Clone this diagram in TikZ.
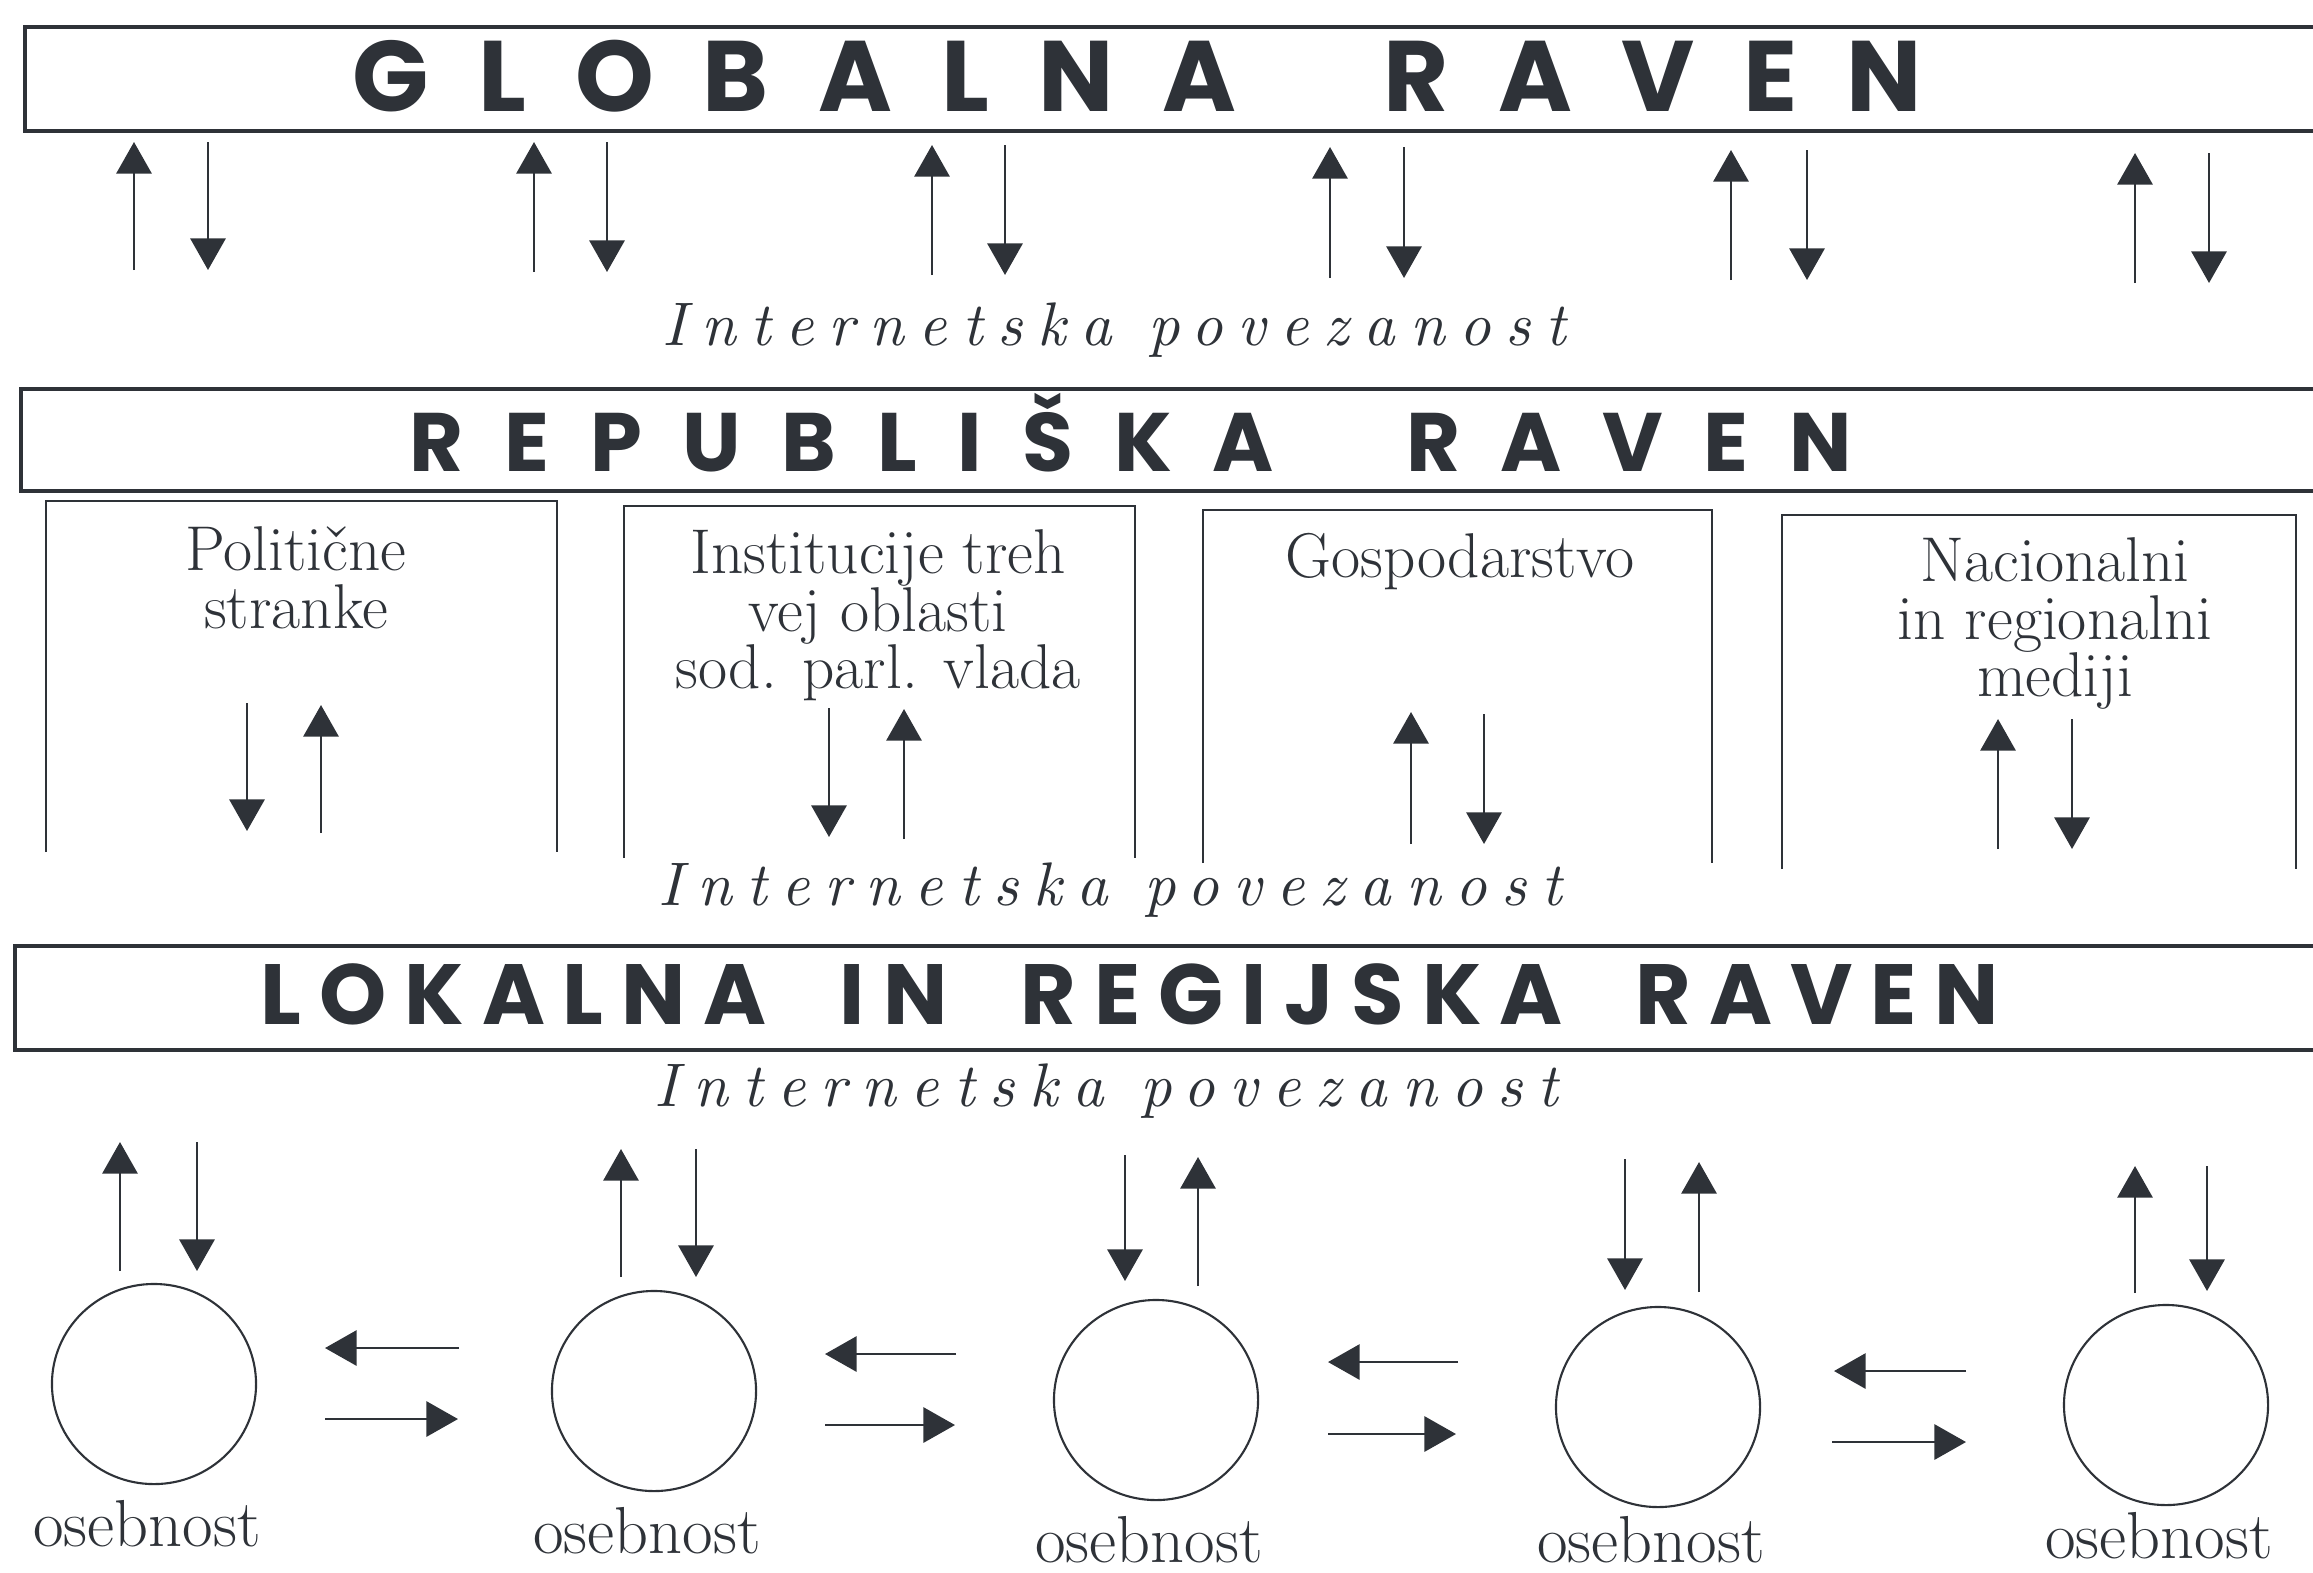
\documentclass[tikz,border=0pt]{standalone}
\usepackage{fontspec}
\newfontfamily\levelfont{Poppins}
\newfontfamily\linkfont{lmroman10-italic}[Extension=.otf, LetterSpace=24]
\usetikzlibrary{arrows.meta, positioning, shapes.geometric}
\definecolor{ink}{RGB}{46,50,56}

\begin{document}
\begin{tikzpicture}[
    x=0.01cm, y=-0.01cm,
    every node/.style={inner sep=0pt, text=ink},
    bar/.style={draw=ink, line width=1pt},
    branch_box/.style={draw=ink, line width=0.6pt},
    level_title/.style={anchor=base west},
    link_text/.style={anchor=base west, font=\linkfont\fontsize{17.5}{20}\selectfont},
    branch_text/.style={anchor=north, align=center, font=\fontsize{18}{16.4}\selectfont},
    person/.style={ellipse, draw=ink, line width=0.6pt, minimum width=2.04cm, minimum height=2cm},
    person_text/.style={anchor=north, xshift=-0.07cm, font=\fontsize{18.9}{20}\selectfont},
    arrow/.style={draw=ink, line width=0.75pt, -{Triangle[length=9pt, width=10pt]}},
    ]

    \useasboundingbox (0,0) rectangle (2313,1572);

    % --- Levels ---
    \draw[bar] (2313,27) -- (25,27) -- (25,131) -- (2313,131);
    \draw[bar] (2313,389) -- (21,389) -- (21,491) -- (2313,491);
    \draw[bar] (2313,946) -- (15,946) -- (15,1050) -- (2313,1050);

    \node (global) [level_title, font=\levelfont\bfseries\fontsize{28.5}{30}\selectfont\addfontfeature{LetterSpace=49}]
        at (352,111) {GLOBALNA\hspace{0.77cm} RAVEN};
    \node (republic) [level_title, font=\levelfont\bfseries\fontsize{23.6}{26}\selectfont\addfontfeature{LetterSpace=49}]
        at (409,471) {REPUBLIŠKA\hspace{0.74cm} RAVEN};
    \node (local) [level_title, font=\levelfont\bfseries\fontsize{24.3}{26}\selectfont\addfontfeature{LetterSpace=21}]
        at (260,1024) {LOKALNA\hspace{0.37cm} IN\hspace{0.37cm} REGIJSKA\hspace{0.37cm} RAVEN};

    \node (net_global) [link_text] at (662,345) {Internetska povezanost};
    \node (net_republic) [link_text] at (658,905) {Internetska povezanost};
    \node (net_local) [link_text] at (654,1106) {Internetska povezanost};

    % --- Republic branches ---
    \draw[branch_box] (46,852) -- (46,501) -- (557,501) -- (557,852);
    \draw[branch_box] (624,858) -- (624,506) -- (1135,506) -- (1135,858);
    \draw[branch_box] (1203,863) -- (1203,510) -- (1712,510) -- (1712,863);
    \draw[branch_box] (1782,869) -- (1782,515) -- (2296,515) -- (2296,869);

    \node (parties) [branch_text] at (296,526) {Politične\\stranke};
    \node (institutions) [branch_text] at (878,529) {Institucije treh\\vej oblasti\\sod. parl. vlada};
    \node (economy) [branch_text] at (1460,533) {Gospodarstvo};
    \node (media) [branch_text] at (2055,537) {Nacionalni\\in regionalni\\mediji};

    % --- Persons ---
    \node (p1) [person] at (154,1384) {};
    \node (p2) [person] at (654,1391) {};
    \node (p3) [person] at (1156,1400) {};
    \node (p4) [person] at (1658,1407) {};
    \node (p5) [person] at (2166,1405) {};

    \node (p1_name) [person_text, below=0.15cm of p1] {osebnost};
    \node (p2_name) [person_text, below=0.15cm of p2] {osebnost};
    \node (p3_name) [person_text, below=0.15cm of p3] {osebnost};
    \node (p4_name) [person_text, below=0.08cm of p4] {osebnost};
    \node (p5_name) [person_text, below=0.06cm of p5] {osebnost};

    % --- Arrow ends ---
    \coordinate (g1_up_a) at (134,270); \coordinate (g1_up_b) at (134,142);
    \coordinate (g1_dn_a) at (208,142); \coordinate (g1_dn_b) at (208,270);
    \coordinate (g2_up_a) at (534,272); \coordinate (g2_up_b) at (534,142);
    \coordinate (g2_dn_a) at (607,142); \coordinate (g2_dn_b) at (607,272);
    \coordinate (g3_up_a) at (932,275); \coordinate (g3_up_b) at (932,145);
    \coordinate (g3_dn_a) at (1005,145); \coordinate (g3_dn_b) at (1005,275);
    \coordinate (g4_up_a) at (1330,278); \coordinate (g4_up_b) at (1330,147);
    \coordinate (g4_dn_a) at (1404,147); \coordinate (g4_dn_b) at (1404,278);
    \coordinate (g5_up_a) at (1731,280); \coordinate (g5_up_b) at (1731,150);
    \coordinate (g5_dn_a) at (1807,150); \coordinate (g5_dn_b) at (1807,280);
    \coordinate (g6_up_a) at (2135,283); \coordinate (g6_up_b) at (2135,153);
    \coordinate (g6_dn_a) at (2209,153); \coordinate (g6_dn_b) at (2209,283);

    \coordinate (b1_dn_a) at (247,703); \coordinate (b1_dn_b) at (247,831);
    \coordinate (b1_up_a) at (321,833); \coordinate (b1_up_b) at (321,705);
    \coordinate (b2_dn_a) at (829,708); \coordinate (b2_dn_b) at (829,837);
    \coordinate (b2_up_a) at (904,839); \coordinate (b2_up_b) at (904,709);
    \coordinate (b3_up_a) at (1411,844); \coordinate (b3_up_b) at (1411,712);
    \coordinate (b3_dn_a) at (1484,714); \coordinate (b3_dn_b) at (1484,844);
    \coordinate (b4_up_a) at (1998,849); \coordinate (b4_up_b) at (1998,719);
    \coordinate (b4_dn_a) at (2072,719); \coordinate (b4_dn_b) at (2072,849);

    \coordinate (p1_up_a) at (120,1271); \coordinate (p1_up_b) at (120,1142);
    \coordinate (p1_dn_a) at (197,1142); \coordinate (p1_dn_b) at (197,1271);
    \coordinate (p2_up_a) at (621,1277); \coordinate (p2_up_b) at (621,1149);
    \coordinate (p2_dn_a) at (696,1149); \coordinate (p2_dn_b) at (696,1277);
    \coordinate (p3_dn_a) at (1125,1155); \coordinate (p3_dn_b) at (1125,1281);
    \coordinate (p3_up_a) at (1198,1286); \coordinate (p3_up_b) at (1198,1157);
    \coordinate (p4_dn_a) at (1625,1159); \coordinate (p4_dn_b) at (1625,1290);
    \coordinate (p4_up_a) at (1699,1292); \coordinate (p4_up_b) at (1699,1162);
    \coordinate (p5_up_a) at (2135,1293); \coordinate (p5_up_b) at (2135,1166);
    \coordinate (p5_dn_a) at (2207,1166); \coordinate (p5_dn_b) at (2207,1291);

    \coordinate (h12_l_a) at (459,1348); \coordinate (h12_l_b) at (325,1348);
    \coordinate (h12_r_a) at (325,1419); \coordinate (h12_r_b) at (458,1419);
    \coordinate (h23_l_a) at (956,1354); \coordinate (h23_l_b) at (825,1354);
    \coordinate (h23_r_a) at (825,1425); \coordinate (h23_r_b) at (955,1425);
    \coordinate (h34_l_a) at (1458,1362); \coordinate (h34_l_b) at (1328,1362);
    \coordinate (h34_r_a) at (1328,1434); \coordinate (h34_r_b) at (1456,1434);
    \coordinate (h45_l_a) at (1966,1371); \coordinate (h45_l_b) at (1834,1371);
    \coordinate (h45_r_a) at (1832,1442); \coordinate (h45_r_b) at (1966,1442);

    % --- Arrows ---
    \draw[arrow] (g1_up_a) -- (g1_up_b);
    \draw[arrow] (g1_dn_a) -- (g1_dn_b);
    \draw[arrow] (g2_up_a) -- (g2_up_b);
    \draw[arrow] (g2_dn_a) -- (g2_dn_b);
    \draw[arrow] (g3_up_a) -- (g3_up_b);
    \draw[arrow] (g3_dn_a) -- (g3_dn_b);
    \draw[arrow] (g4_up_a) -- (g4_up_b);
    \draw[arrow] (g4_dn_a) -- (g4_dn_b);
    \draw[arrow] (g5_up_a) -- (g5_up_b);
    \draw[arrow] (g5_dn_a) -- (g5_dn_b);
    \draw[arrow] (g6_up_a) -- (g6_up_b);
    \draw[arrow] (g6_dn_a) -- (g6_dn_b);

    \draw[arrow] (b1_dn_a) -- (b1_dn_b);
    \draw[arrow] (b1_up_a) -- (b1_up_b);
    \draw[arrow] (b2_dn_a) -- (b2_dn_b);
    \draw[arrow] (b2_up_a) -- (b2_up_b);
    \draw[arrow] (b3_up_a) -- (b3_up_b);
    \draw[arrow] (b3_dn_a) -- (b3_dn_b);
    \draw[arrow] (b4_up_a) -- (b4_up_b);
    \draw[arrow] (b4_dn_a) -- (b4_dn_b);

    \draw[arrow] (p1_up_a) -- (p1_up_b);
    \draw[arrow] (p1_dn_a) -- (p1_dn_b);
    \draw[arrow] (p2_up_a) -- (p2_up_b);
    \draw[arrow] (p2_dn_a) -- (p2_dn_b);
    \draw[arrow] (p3_dn_a) -- (p3_dn_b);
    \draw[arrow] (p3_up_a) -- (p3_up_b);
    \draw[arrow] (p4_dn_a) -- (p4_dn_b);
    \draw[arrow] (p4_up_a) -- (p4_up_b);
    \draw[arrow] (p5_up_a) -- (p5_up_b);
    \draw[arrow] (p5_dn_a) -- (p5_dn_b);

    \draw[arrow] (h12_l_a) -- (h12_l_b);
    \draw[arrow] (h12_r_a) -- (h12_r_b);
    \draw[arrow] (h23_l_a) -- (h23_l_b);
    \draw[arrow] (h23_r_a) -- (h23_r_b);
    \draw[arrow] (h34_l_a) -- (h34_l_b);
    \draw[arrow] (h34_r_a) -- (h34_r_b);
    \draw[arrow] (h45_l_a) -- (h45_l_b);
    \draw[arrow] (h45_r_a) -- (h45_r_b);

\end{tikzpicture}
\end{document}
